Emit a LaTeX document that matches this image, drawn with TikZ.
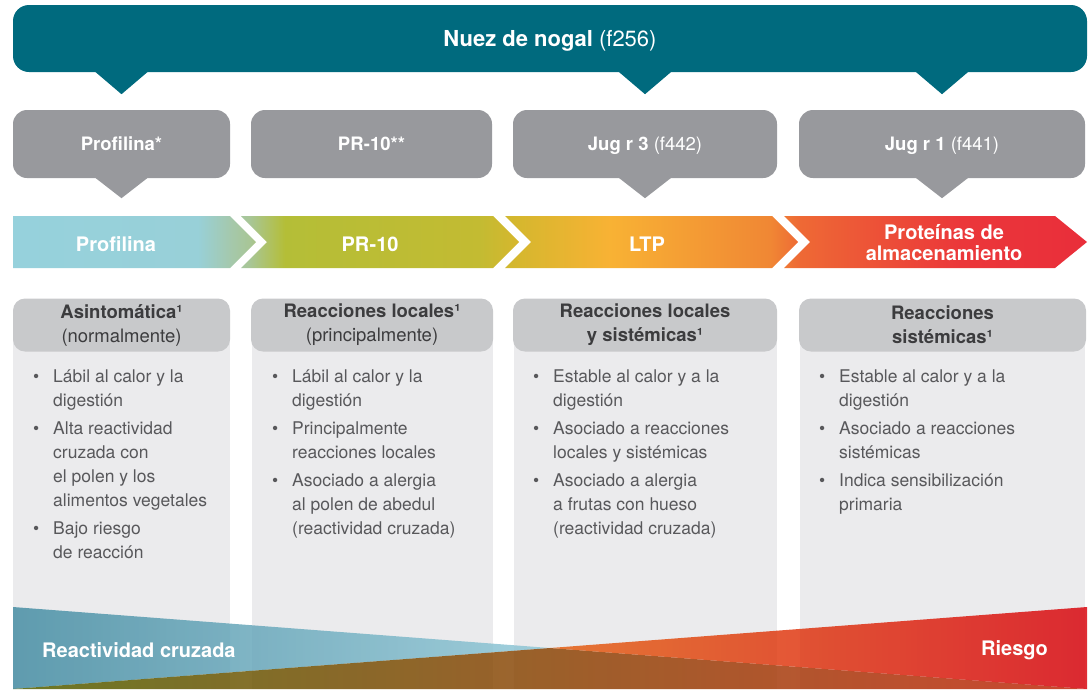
\documentclass[tikz,border=0pt]{standalone}
\usepackage{fontspec}
\setmainfont{TeX Gyre Heros}
\usetikzlibrary{calc,positioning}

\definecolor{nogal}{RGB}{0,106,126}
\definecolor{alergeno}{RGB}{152,153,157}
\definecolor{cabecera}{RGB}{200,201,203}
\definecolor{panel}{RGB}{235,235,237}
\definecolor{titulo}{RGB}{60,60,62}
\definecolor{cuerpo}{RGB}{88,88,91}

\pgfdeclarehorizontalshading{banda}{100bp}{%
 rgb(0bp)=(0.588,0.820,0.863);
 rgb(25bp)=(0.588,0.820,0.863);
 rgb(33.6bp)=(0.596,0.816,0.847);
 rgb(35.2bp)=(0.647,0.784,0.667);
 rgb(36.03bp)=(0.659,0.776,0.588);
 rgb(37.66bp)=(0.706,0.745,0.216);
 rgb(46.74bp)=(0.765,0.733,0.196);
 rgb(48.37bp)=(0.835,0.718,0.180);
 rgb(52.79bp)=(0.973,0.698,0.204);
 rgb(60.24bp)=(0.941,0.529,0.204);
 rgb(61.64bp)=(0.933,0.412,0.208);
 rgb(69.09bp)=(0.922,0.216,0.227);
 rgb(75bp)=(0.914,0.180,0.227);
 rgb(100bp)=(0.914,0.180,0.227)}

\newcommand{\vin}{\leavevmode\llap{\textbullet\hspace{14pt}}}

\begin{document}
\begin{tikzpicture}[x=1pt,y=-1pt,
  banner/.style={fill=nogal,rounded corners=16pt,minimum width=1074pt,minimum height=67pt,text=white,font=\fontsize{22}{26}\selectfont,text height=16pt,text depth=0pt,inner sep=0pt},
  alerg/.style={fill=alergeno,rounded corners=14pt,minimum height=68pt,text=white,font=\fontsize{18.5}{22}\selectfont,text height=13.5pt,text depth=0pt,inner sep=0pt},
  flecha/.style={text=white,font=\bfseries\fontsize{20}{21}\selectfont,align=center,inner sep=0pt},
  cabeza/.style={fill=cabecera,rounded corners=12pt,minimum height=53pt,text=titulo,font=\fontsize{18.5}{24}\selectfont,align=center,inner sep=0pt},
  lista/.style={anchor=north west,text=cuerpo,font=\fontsize{17.5}{24}\selectfont,align=left,inner sep=0pt},
  pie/.style={text=white,font=\bfseries\fontsize{20}{24}\selectfont,inner sep=0pt}]
\useasboundingbox (0,0) rectangle (1091,689);
%Top banner and allergen boxes
\node[banner] (nuez) at (550,38.5) {\textbf{Nuez de nogal} (f256)};
\node[alerg,minimum width=217pt] (prof) at (121.5,144) {\textbf{Profilina*}};
\node[alerg,minimum width=241pt] (pr10) at (371.5,144) {\textbf{PR-10**}};
\node[alerg,minimum width=264pt] (jug3) at (645,144) {\textbf{Jug r 3} (f442)};
\node[alerg,minimum width=286pt] (jug1) at (942,144) {\textbf{Jug r 1} (f441)};
%Pointers
\foreach \n in {prof,jug3,jug1}{
  \fill[nogal] ($(nuez.south -| \n.north)+(-27,-1)$) -- ($(nuez.south -| \n.north)+(27,-1)$) -- ($(nuez.south -| \n.north)+(0,22)$) -- cycle;
  \fill[alergeno] ($(\n.south)+(-27,-1)$) -- ($(\n.south)+(27,-1)$) -- ($(\n.south)+(0,20)$) -- cycle;
}
%Arrow band
\shade[shading=banda]
  (13,216) -- (230,216) -- (256,242) -- (230,268) -- (13,268) -- cycle
  (241,216) -- (493,216) -- (519,242) -- (493,268) -- (241,268) -- (267,242) -- cycle
  (505,216) -- (772,216) -- (798,242) -- (772,268) -- (505,268) -- (531,242) -- cycle
  (784,216) -- (1055,216) -- (1087,242) -- (1055,268) -- (784,268) -- (810,242) -- cycle;
\node[flecha] (fprof) at (116,244) {Profilina};
\node[flecha] (fpr10) at (370,244) {PR-10};
\node[flecha] (fltp) at (647,244) {LTP};
\node[flecha] (falm) at (944,243) {Proteínas de\\almacenamiento};
%Columns
\fill[panel] (13,340) rectangle (230,689);
\fill[panel] (252,340) rectangle (493,689);
\fill[panel] (514,340) rectangle (777,689);
\fill[panel] (800,340) rectangle (1085,689);
\node[cabeza,minimum width=217pt] (cab1) at (121.5,325) {\textbf{Asintomática¹}\\(normalmente)};
\node[cabeza,minimum width=242pt] (cab2) at (372,325) {\textbf{Reacciones locales¹}\\(principalmente)};
\node[cabeza,minimum width=264pt] (cab3) at (645,325) {\textbf{Reacciones locales}\\\textbf{y sistémicas¹}};
\node[cabeza,minimum width=287pt] (cab4) at (942.5,325) {\textbf{Reacciones}\\\textbf{sistémicas¹}};
\node[lista] (txt1) at (53,370) {\vin Lábil al calor y la\\digestión\\[4pt]\vin Alta reactividad\\cruzada con\\el polen y los\\alimentos vegetales\\[4pt]\vin Bajo riesgo\\de reacción};
\node[lista] (txt2) at (292,370) {\vin Lábil al calor y la\\digestión\\[4pt]\vin Principalmente\\reacciones locales\\[4pt]\vin Asociado a alergia\\al polen de abedul\\(reactividad cruzada)};
\node[lista] (txt3) at (553,370) {\vin Estable al calor y a la\\digestión\\[4pt]\vin Asociado a reacciones\\locales y sistémicas\\[4pt]\vin Asociado a alergia\\a frutas con hueso\\(reactividad cruzada)};
\node[lista] (txt4) at (839,370) {\vin Estable al calor y a la\\digestión\\[4pt]\vin Asociado a reacciones\\sistémicas\\[4pt]\vin Indica sensibilización\\primaria};
%Cross reactivity and risk wedges
\shade[left color={rgb,255:red,71;green,142;blue,164},right color={rgb,255:red,146;green,200;blue,215},opacity=0.85]
  (13,607) -- (550,648) -- (13,689) -- cycle;
\shade[left color={rgb,255:red,85;green,100;blue,3},middle color={rgb,255:red,158;green,90;blue,11},right color={rgb,255:red,199;green,43;blue,15},opacity=0.85]
  (13,689) -- (550,648) -- (1087,689) -- cycle;
\shade[left color={rgb,255:red,228;green,98;blue,20},right color={rgb,255:red,217;green,8;blue,17},opacity=0.85]
  (550,648) -- (1087,607) -- (1087,689) -- cycle;
\node[pie,anchor=west] (reac) at (42,650) {Reactividad cruzada};
\node[pie,anchor=east] (ries) at (1048,650) {Riesgo};
\end{tikzpicture}
\end{document}
